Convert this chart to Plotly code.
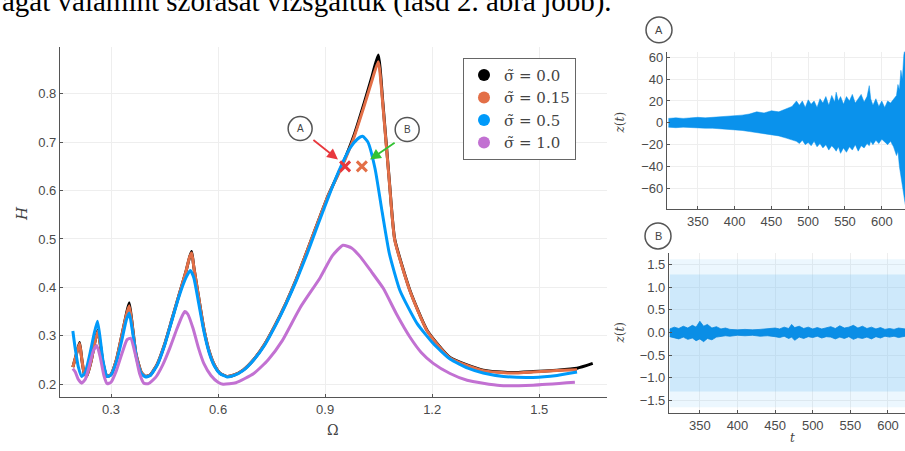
import plotly.graph_objects as go

W, H = 905, 451

# ---------------- main panel data ----------------
omega_k = [0.193, 0.203, 0.212, 0.218, 0.225, 0.232, 0.245, 0.255, 0.263, 0.270, 0.278, 0.289, 0.300,
           0.315, 0.330, 0.343, 0.351, 0.358, 0.370, 0.385, 0.397, 0.410, 0.430, 0.450, 0.470, 0.490,
           0.510, 0.520, 0.526, 0.532, 0.545, 0.560, 0.575, 0.590, 0.605, 0.625, 0.645, 0.670, 0.700,
           0.730, 0.760, 0.790, 0.820, 0.850, 0.880, 0.910, 0.950, 0.980, 1.010, 1.030, 1.049, 1.062,
           1.080, 1.095, 1.138, 1.186, 1.250, 1.343, 1.420, 1.483, 1.550, 1.606, 1.650]
h_k = [0.235, 0.262, 0.286, 0.252, 0.222, 0.217, 0.250, 0.288, 0.312, 0.282, 0.242, 0.216, 0.220,
       0.250, 0.300, 0.345, 0.368, 0.332, 0.262, 0.224, 0.216, 0.219, 0.242, 0.282, 0.332, 0.383,
       0.433, 0.462, 0.474, 0.442, 0.382, 0.315, 0.268, 0.239, 0.223, 0.216, 0.219, 0.229, 0.251,
       0.282, 0.322, 0.367, 0.418, 0.476, 0.535, 0.592, 0.656, 0.712, 0.782, 0.832, 0.880, 0.780,
       0.620, 0.500, 0.393, 0.311, 0.255, 0.229, 0.224, 0.226, 0.229, 0.233, 0.243]

omega_o = omega_k[:-1]
h_o = [0.235, 0.262, 0.284, 0.252, 0.222, 0.217, 0.250, 0.288, 0.310, 0.282, 0.242, 0.216, 0.220,
       0.250, 0.300, 0.343, 0.362, 0.330, 0.262, 0.224, 0.216, 0.219, 0.242, 0.282, 0.332, 0.383,
       0.433, 0.462, 0.471, 0.442, 0.382, 0.315, 0.268, 0.239, 0.223, 0.216, 0.219, 0.229, 0.251,
       0.282, 0.322, 0.367, 0.418, 0.476, 0.535, 0.592, 0.654, 0.708, 0.776, 0.824, 0.866, 0.775,
       0.618, 0.498, 0.392, 0.310, 0.254, 0.228, 0.223, 0.225, 0.228, 0.230]

omega_b = [0.193, 0.200, 0.208, 0.218, 0.228, 0.240, 0.252, 0.262, 0.270, 0.278, 0.289, 0.300, 0.315,
           0.330, 0.343, 0.351, 0.360, 0.372, 0.385, 0.397, 0.410, 0.430, 0.450, 0.470, 0.490, 0.510,
           0.522, 0.532, 0.545, 0.560, 0.575, 0.590, 0.605, 0.625, 0.645, 0.670, 0.700, 0.730, 0.760,
           0.790, 0.820, 0.850, 0.880, 0.910, 0.940, 0.970, 0.990, 1.005, 1.020, 1.040, 1.060, 1.080,
           1.110, 1.158, 1.203, 1.250, 1.300, 1.343, 1.400, 1.483, 1.550, 1.606]
h_b = [0.310, 0.272, 0.237, 0.216, 0.225, 0.260, 0.302, 0.330, 0.292, 0.246, 0.216, 0.219, 0.246,
       0.290, 0.333, 0.347, 0.310, 0.252, 0.222, 0.215, 0.218, 0.240, 0.280, 0.330, 0.380, 0.420,
       0.435, 0.420, 0.370, 0.310, 0.265, 0.237, 0.222, 0.215, 0.218, 0.228, 0.250, 0.280, 0.320,
       0.365, 0.415, 0.470, 0.530, 0.588, 0.643, 0.688, 0.706, 0.712, 0.700, 0.645, 0.555, 0.470,
       0.393, 0.325, 0.284, 0.252, 0.233, 0.223, 0.216, 0.214, 0.218, 0.225]

omega_p = [0.193, 0.200, 0.208, 0.218, 0.228, 0.240, 0.250, 0.260, 0.270, 0.280, 0.289, 0.300, 0.315,
           0.330, 0.345, 0.355, 0.368, 0.380, 0.392, 0.405, 0.425, 0.445, 0.465, 0.485, 0.500, 0.507,
           0.515, 0.530, 0.545, 0.560, 0.580, 0.600, 0.614, 0.650, 0.700, 0.740, 0.780, 0.830, 0.886,
           0.920, 0.950, 0.975, 1.000, 1.030, 1.063, 1.100, 1.138, 1.170, 1.203, 1.250, 1.298, 1.390,
           1.483, 1.600]
h_p = [0.232, 0.225, 0.210, 0.202, 0.210, 0.240, 0.268, 0.280, 0.255, 0.218, 0.201, 0.204, 0.228,
       0.262, 0.292, 0.295, 0.262, 0.222, 0.202, 0.201, 0.214, 0.240, 0.275, 0.315, 0.342, 0.350,
       0.345, 0.315, 0.275, 0.243, 0.218, 0.204, 0.200, 0.203, 0.222, 0.250, 0.290, 0.358, 0.420,
       0.465, 0.487, 0.481, 0.462, 0.432, 0.398, 0.345, 0.297, 0.265, 0.243, 0.222, 0.208, 0.197,
       0.198, 0.204]

legend_labels = ["σ̃ = 0.0", "σ̃ = 0.15", "σ̃ = 0.5", "σ̃ = 1.0"]
colors = ["#000000", "#E36F47", "#009AFA", "#C271D2"]

x_ticks_main = [0.3, 0.6, 0.9, 1.2, 1.5]
y_ticks_main = [0.2, 0.3, 0.4, 0.5, 0.6, 0.7, 0.8]

# marked points A and B
mark_omega = [0.956, 1.003]
mark_h = [0.650, 0.650]

# ---------------- panel A (envelope of z(t)) ----------------
tA = [310, 320, 330, 340, 350, 360, 370, 380, 390, 400, 410, 420, 430, 440, 450, 460, 470, 478, 484,
      488, 492, 496, 500, 504, 508, 512, 516, 520, 524, 528, 532, 536, 538, 541, 544, 548, 552, 556,
      560, 564, 568, 572, 576, 580, 583, 585, 588, 592, 596, 600, 604, 608, 612, 616, 620, 622, 624,
      626, 628, 630, 632]
upA = [4, 4.5, 4, 4.5, 5, 4.5, 5, 5, 5.5, 6, 7, 8, 10, 9, 11, 10, 13, 15, 20,
       16, 20, 14, 21, 17, 20, 14, 22, 18, 24, 16, 25, 19, 28, 20, 24, 17, 24, 20,
       26, 18, 22, 26, 19, 24, 34, 22, 16, 22, 15, 20, 14, 20, 18, 22, 25, 35, 30,
       48, 40, 62, 70]
loA = [-4, -4.5, -4, -4.5, -4.5, -5, -5, -5.5, -6, -6, -7, -8, -9, -10, -11, -12, -14, -16, -17,
       -19, -16, -20, -18, -21, -17, -22, -19, -23, -20, -25, -21, -24, -26, -22, -28, -23, -27, -22,
       -25, -20, -26, -21, -23, -19, -21, -17, -20, -16, -19, -15, -18, -20, -17, -22, -30, -26, -40,
       -48, -55, -65, -75]

# ---------------- panel B ----------------
tB = [310, 316, 322, 328, 334, 340, 345, 350, 355, 360, 366, 372, 378, 384, 390, 400, 410, 420, 430,
      440, 450, 456, 462, 468, 472, 476, 482, 488, 494, 500, 506, 512, 518, 524, 530, 536, 542, 548,
      554, 560, 566, 572, 578, 584, 590, 596, 602, 608, 614, 620, 623]
upB = [0.08, 0.12, 0.09, 0.14, 0.10, 0.16, 0.12, 0.25, 0.14, 0.18, 0.10, 0.13, 0.08, 0.10, 0.07,
       0.06, 0.07, 0.06, 0.07, 0.08, 0.10, 0.08, 0.12, 0.09, 0.18, 0.11, 0.14, 0.09, 0.12, 0.08,
       0.11, 0.08, 0.10, 0.13, 0.09, 0.15, 0.10, 0.12, 0.16, 0.10, 0.14, 0.09, 0.12, 0.08, 0.11,
       0.07, 0.09, 0.07, 0.10, 0.08, 0.08]
loB = [-0.09, -0.11, -0.14, -0.10, -0.15, -0.12, -0.18, -0.14, -0.20, -0.13, -0.16, -0.10, -0.09,
       -0.07, -0.08, -0.06, -0.07, -0.06, -0.08, -0.07, -0.09, -0.11, -0.08, -0.13, -0.10, -0.17,
       -0.10, -0.13, -0.09, -0.11, -0.08, -0.12, -0.09, -0.10, -0.14, -0.10, -0.13, -0.09, -0.15,
       -0.11, -0.13, -0.10, -0.14, -0.09, -0.12, -0.08, -0.10, -0.08, -0.11, -0.08, -0.08]
bandB_t = [310, 623]
bandB_outer = [1.62, -1.65]
bandB_inner = [1.28, -1.30]

t_ticks = [350, 400, 450, 500, 550, 600]
zA_ticks = [-60, -40, -20, 0, 20, 40, 60]
zB_ticks = [-1.5, -1.0, -0.5, 0.0, 0.5, 1.0, 1.5]

# ---------------- figure ----------------
fig = go.Figure()

series = [(omega_k, h_k), (omega_o, h_o), (omega_b, h_b), (omega_p, h_p)]
for (xs, ys), c in zip(series, colors):
    fig.add_trace(go.Scatter(x=xs, y=ys, mode="lines", line=dict(color=c, width=3, shape="spline", smoothing=0.5),
                             showlegend=False, xaxis="x", yaxis="y", hoverinfo="skip"))

fig.add_trace(go.Scatter(x=mark_omega, y=mark_h, mode="markers",
                         marker=dict(symbol="x-thin", size=10, color=["#E8383D", "#E36F47"],
                                     line=dict(width=3, color=["#E8383D", "#E36F47"])),
                         showlegend=False, xaxis="x", yaxis="y"))

for i, (lab, c) in enumerate(zip(legend_labels, colors)):
    fig.add_trace(go.Scatter(x=[None], y=[None], mode="markers", name=lab, legendgroup=f"g{i}",
                             marker=dict(size=15, color=c), xaxis="x", yaxis="y"))

# panel A
fig.add_trace(go.Scatter(x=tA, y=upA, mode="lines", line=dict(width=0.5, color="#0A92EC"),
                         showlegend=False, xaxis="x2", yaxis="y2"))
fig.add_trace(go.Scatter(x=tA, y=loA, mode="lines", line=dict(width=0.5, color="#0A92EC"),
                         fill="tonexty", fillcolor="#0A92EC", showlegend=False, xaxis="x2", yaxis="y2"))

# panel B
fig.add_trace(go.Scatter(x=bandB_t, y=[bandB_outer[0]] * 2, mode="lines", line=dict(width=0),
                         showlegend=False, xaxis="x3", yaxis="y3"))
fig.add_trace(go.Scatter(x=bandB_t, y=[bandB_outer[1]] * 2, mode="lines", line=dict(width=0),
                         fill="tonexty", fillcolor="rgba(120,195,245,0.14)", showlegend=False,
                         xaxis="x3", yaxis="y3"))
fig.add_trace(go.Scatter(x=bandB_t, y=[bandB_inner[0]] * 2, mode="lines", line=dict(width=0),
                         showlegend=False, xaxis="x3", yaxis="y3"))
fig.add_trace(go.Scatter(x=bandB_t, y=[bandB_inner[1]] * 2, mode="lines", line=dict(width=0),
                         fill="tonexty", fillcolor="rgba(120,195,245,0.26)", showlegend=False,
                         xaxis="x3", yaxis="y3"))
fig.add_trace(go.Scatter(x=tB, y=upB, mode="lines", line=dict(width=0.8, color="#0A88DD"),
                         showlegend=False, xaxis="x3", yaxis="y3"))
fig.add_trace(go.Scatter(x=tB, y=loB, mode="lines", line=dict(width=0.8, color="#0A88DD"),
                         fill="tonexty", fillcolor="#0A8EE6", showlegend=False, xaxis="x3", yaxis="y3"))

tickfont = dict(family="Liberation Sans, Arial, sans-serif", size=13, color="#4a4a4a")
axis_common = dict(showline=True, linecolor="#555", linewidth=1.2, ticks="inside", ticklen=3,
                   tickcolor="#555", showgrid=True, gridcolor="#eeeeee", gridwidth=1, zeroline=False,
                   tickfont=tickfont, mirror=False)


def px_x(p):
    return p / W


def px_y(p):
    return 1 - p / H


fig.update_layout(
    width=W, height=H, margin=dict(l=0, r=0, t=0, b=0),
    paper_bgcolor="white", plot_bgcolor="white",
    xaxis=dict(domain=[px_x(60), px_x(607)], range=[0.157, 1.69], tickvals=x_ticks_main,
               anchor="y", **axis_common),
    yaxis=dict(domain=[px_y(397), px_y(45)], range=[0.173, 0.897], tickvals=y_ticks_main,
               anchor="x", tickformat=".1f", **axis_common),
    xaxis2=dict(domain=[px_x(667), 1.0], range=[308, 631.6], tickvals=t_ticks, anchor="y2", **axis_common),
    yaxis2=dict(domain=[px_y(208), px_y(50)], range=[-79, 65], tickvals=zA_ticks, anchor="x2", **axis_common),
    xaxis3=dict(domain=[px_x(669), 1.0], range=[309, 622.6], tickvals=t_ticks, anchor="y3", **axis_common),
    yaxis3=dict(domain=[px_y(413), px_y(252)], range=[-1.78, 1.76], tickvals=zB_ticks, tickformat=".1f",
                anchor="x3", **axis_common),
    legend=dict(x=px_x(463), y=px_y(56), xanchor="left", yanchor="top", bgcolor="white",
                bordercolor="#666", borderwidth=1, font=dict(family="DejaVu Serif, serif", size=15, color="#444"),
                itemsizing="constant", tracegroupgap=4, traceorder="normal"),
    showlegend=True,
)

shapes = []
annotations = []

# labelled circles in main panel
for lab, cx, cy in [("A", 0.83, 0.728), ("B", 1.13, 0.726)]:
    shapes.append(dict(type="circle", xref="x", yref="y", xsizemode="pixel", ysizemode="pixel",
                       xanchor=cx, yanchor=cy, x0=-12, x1=12, y0=-12, y1=12,
                       line=dict(color="#555", width=1.5), fillcolor="white"))
    annotations.append(dict(x=cx, y=cy, xref="x", yref="y", text=lab, showarrow=False,
                            xanchor="center", yanchor="middle",
                            font=dict(family="Liberation Sans, sans-serif", size=10, color="#444")))

# arrows
annotations.append(dict(x=0.936, y=0.664, ax=0.863, ay=0.707, xref="x", yref="y", axref="x", ayref="y",
                        showarrow=True, arrowhead=2, arrowsize=1.2, arrowwidth=1.8, arrowcolor="#E8383D", text=""))
annotations.append(dict(x=1.026, y=0.664, ax=1.099, ay=0.701, xref="x", yref="y", axref="x", ayref="y",
                        showarrow=True, arrowhead=2, arrowsize=1.2, arrowwidth=1.8, arrowcolor="#33C233", text=""))

# circles by the side panels
for lab, cx, cy in [("A", 659, 28), ("B", 658, 235)]:
    shapes.append(dict(type="circle", xref="paper", yref="paper",
                       x0=px_x(cx - 13), x1=px_x(cx + 13), y0=px_y(cy + 13), y1=px_y(cy - 13),
                       line=dict(color="#555", width=1.5), fillcolor="white"))
    annotations.append(dict(x=px_x(cx), y=px_y(cy), xref="paper", yref="paper", text=lab, showarrow=False,
                            xanchor="center", yanchor="middle",
                            font=dict(family="Liberation Sans, sans-serif", size=11, color="#444")))

# axis titles
title_font = dict(family="DejaVu Serif, serif", size=12, color="#444")
annotations += [
    dict(x=px_x(22), y=px_y(213), xref="paper", yref="paper", text="<i>H</i>", showarrow=False, textangle=-90,
         xanchor="center", yanchor="middle", font=dict(family="DejaVu Serif, serif", size=15, color="#444")),
    dict(x=px_x(333), y=px_y(430), xref="paper", yref="paper", text="Ω", showarrow=False,
         xanchor="center", yanchor="middle", font=dict(family="DejaVu Serif, serif", size=14, color="#444")),
    dict(x=px_x(620), y=px_y(121), xref="paper", yref="paper", text="<i>z</i>(<i>t</i>)", showarrow=False,
         textangle=-90, xanchor="center", yanchor="middle", font=title_font),
    dict(x=px_x(620), y=px_y(332), xref="paper", yref="paper", text="<i>z</i>(<i>t</i>)", showarrow=False,
         textangle=-90, xanchor="center", yanchor="middle", font=title_font),
    dict(x=px_x(792), y=px_y(438), xref="paper", yref="paper", text="<i>t</i>", showarrow=False,
         xanchor="center", yanchor="middle", font=title_font),
    dict(x=0, y=px_y(18), xref="paper", yref="paper", xanchor="left", yanchor="bottom", showarrow=False,
         text="agat valamint szórását vizsgáltuk (lásd 2. ábra jobb).",
         font=dict(family="Liberation Serif, Times New Roman, serif", size=29, color="#000")),
]

fig.update_layout(shapes=shapes, annotations=annotations)

fig.write_html("out.html", config={"displayModeBar": False},
               post_script="document.body.style.margin='0px';")
